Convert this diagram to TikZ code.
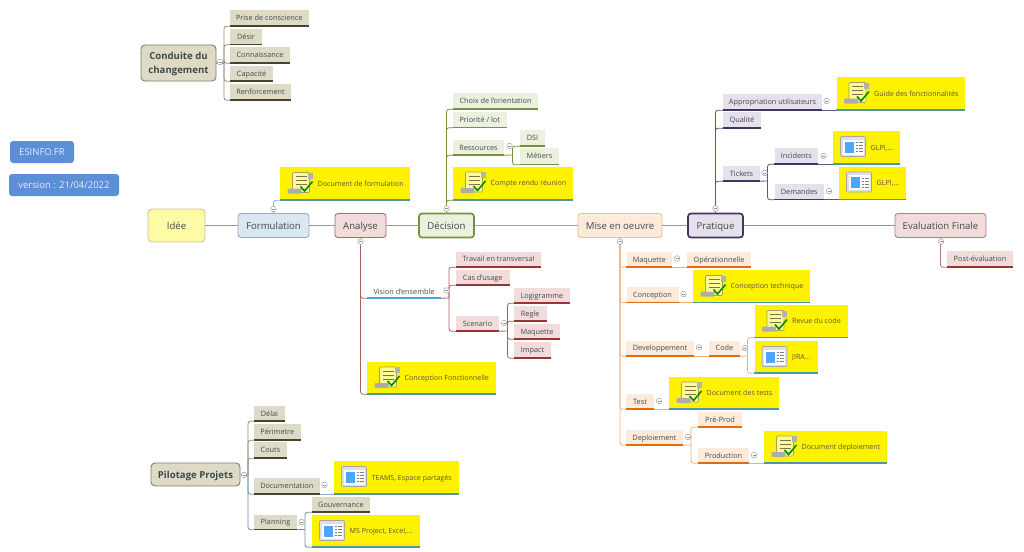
\documentclass[tikz,border=0pt]{standalone}
\usepackage{fontspec}
\setmainfont{Open Sans}
\newcommand{\basel}{\rule[-0.25em]{0pt}{1.25em}}
\definecolor{txt}{HTML}{3F4A4A}
\definecolor{chgF}{HTML}{DDDBC6}\definecolor{chgL}{HTML}{4A452A}
\definecolor{decF}{HTML}{EBF1DE}\definecolor{decL}{HTML}{76923C}
\definecolor{praF}{HTML}{E5E0EC}\definecolor{praL}{HTML}{3F3760}
\definecolor{miseF}{HTML}{FDEADA}\definecolor{miseL}{HTML}{E36C0A}
\definecolor{anaF}{HTML}{F2DCDB}\definecolor{anaL}{HTML}{953735}
\definecolor{forF}{HTML}{DCE6F1}\definecolor{forL}{HTML}{8FB0C8}
\definecolor{yelL}{HTML}{4F97A8}
\definecolor{blu}{HTML}{5B8FD6}
\tikzset{
  mainline/.style={draw=#1,line width=0.9pt,rounded corners=2.5pt},
  con/.style={draw=#1,line width=0.8pt,rounded corners=2.5pt},
  topbox/.style={inner sep=0pt,font=\fontsize{9.6}{11}\selectfont,text=txt,rounded corners=3pt,line width=0.9pt},
  subbox/.style={inner sep=0pt,font=\fontsize{7.3}{9}\selectfont,text=txt},
  yelbox/.style={inner sep=0pt,fill=yellow},
  yeltext/.style={inner sep=0pt,anchor=west,font=\fontsize{7.1}{9}\selectfont,text=black!75!yellow},
  ulchg/.style={draw=chgL,line width=1.5pt},
  uldec/.style={draw=decL,line width=1.5pt},
  ulpra/.style={draw=praL,line width=1.5pt},
  ulmise/.style={draw=miseL,line width=1.5pt},
  ulana/.style={draw=anaL,line width=1.5pt},
  ulvis/.style={draw=blu!80!cyan,line width=1.5pt},
  ulyel/.style={draw=yelL,line width=1.5pt},
  tag/.style={inner sep=0pt,fill=blu,rounded corners=3pt,text=white!92!blue,font=\fontsize{9.5}{11}\selectfont},
  fold/.style={circle,inner sep=0pt,minimum size=5.6pt,draw=gray!75,line width=0.5pt,fill=white,
    path picture={\draw[gray!85,line width=0.4pt] ([xshift=1.3pt]path picture bounding box.west) -- ([xshift=-1.3pt]path picture bounding box.east);}},
  docicon/.pic={
    \draw[fill=yellow!40!white,draw=black!35!yellow!70!gray,line width=0.6pt,rounded corners=1pt] (5,0) rectangle (22,20);
    \fill[gray!60] (20,0) rectangle (25,6);
    \foreach \yy in {4,8,12}{\draw[black!60!yellow,line width=0.5pt] (8,\yy) -- (19,\yy);}
    \fill[gray!65,rounded corners=1pt] (0,16) rectangle (14,21);
    \draw[green!55!black,line width=1.6pt] (13,14) -- (17,18.5) -- (25,9);
  },
  winicon/.pic={
    \draw[fill=gray!25,draw=gray!70,line width=0.6pt,rounded corners=1pt] (0,0) rectangle (25,20);
    \fill[white] (2,3) rectangle (23,18);
    \fill[blue!50!cyan!70!white] (4,5) rectangle (13,16);
    \foreach \yy in {6,9,12,15}{\draw[gray,line width=0.5pt] (15,\yy) -- (17,\yy) (18,\yy) -- (22,\yy);}
  },
}
% style, underline style, name, x1, y1, x2, y2, text
\newcommand{\subt}[8]{%
  \pgfmathsetmacro{\cxx}{(#4+#6)/2}\pgfmathsetmacro{\cyy}{(#5+#7)/2}%
  \pgfmathsetmacro{\www}{#6-#4}\pgfmathsetmacro{\hhh}{#7-#5}%
  \node[subbox,fill=#1,minimum width=\www pt,minimum height=\hhh pt] (#3) at (\cxx,\cyy) {\basel #8};
  \draw[#2] (#3.south west) -- (#3.south east);
}
% icon, name, x1, y1, x2, y2, text
\newcommand{\yelt}[7]{%
  \pgfmathsetmacro{\cxx}{(#3+#5)/2}\pgfmathsetmacro{\cyy}{(#4+#6)/2}%
  \pgfmathsetmacro{\www}{#5-#3}\pgfmathsetmacro{\hhh}{#6-#4}%
  \node[yelbox,minimum width=\www pt,minimum height=\hhh pt] (#2) at (\cxx,\cyy) {};
  \draw[ulyel] (#2.south west) -- (#2.south east);
  \pgfmathsetmacro{\ixx}{#3+7.5}\pgfmathsetmacro{\iyy}{#4+5.5}%
  \pic at (\ixx,\iyy) {#1};
  \pgfmathsetmacro{\txx}{#3+37.5}%
  \node[yeltext] (#2-t) at (\txx,\cyy) {\basel #7};
}
% style options, name, x1, y1, x2, y2, text
\newcommand{\topb}[7]{%
  \pgfmathsetmacro{\cxx}{(#3+#5)/2}\pgfmathsetmacro{\cyy}{(#4+#6)/2}%
  \pgfmathsetmacro{\www}{#5-#3}\pgfmathsetmacro{\hhh}{#6-#4}%
  \node[topbox,#1,minimum width=\www pt,minimum height=\hhh pt] (#2) at (\cxx,\cyy) {\basel #7};
}
\begin{document}
\begin{tikzpicture}[x=1pt,y=-1pt]
\path[use as bounding box,fill=white] (0,0) rectangle (1024,551);

% ---- tags
\node[tag,minimum width=64pt,minimum height=22pt] (esinfo) at (42,152) {\basel ESINFO.FR};
\node[tag,minimum width=110pt,minimum height=22pt] (version) at (64,185) {\basel version : 21/04/2022};

% ---- main row
\topb{draw=yellow!30!gray!70,fill=yellow!35!white,rounded corners=4pt}{idee}{148}{209}{205}{242}{Idée}
\topb{draw=forL,fill=forF}{formu}{238}{213.5}{309}{237.5}{Formulation}
\topb{draw=anaL!75,fill=anaF}{analyse}{335}{213.5}{386}{237.5}{Analyse}
\topb{draw=decL,fill=decF,line width=1.7pt}{decision}{419}{213.5}{474}{237.5}{Décision}
\topb{draw=miseL!45!white,fill=miseF}{mise}{578}{213.5}{662}{237.5}{Mise en oeuvre}
\topb{draw=praL,fill=praF,line width=1.7pt}{pratique}{688}{213.5}{743}{237.5}{Pratique}
\topb{draw=anaL!65,fill=anaF}{evalf}{895}{213.5}{986}{237.5}{Evaluation Finale}
\draw[mainline=anaL!60] (idee) -- (formu);
\draw[mainline=anaL!60] (formu) -- (analyse);
\draw[mainline=anaL!60] (analyse) -- (decision);
\draw[mainline=decL!30!anaL!60] (decision) -- (mise);
\draw[mainline=anaL!60] (mise) -- (pratique);
\draw[mainline=praL!30!anaL!60] (pratique) -- (evalf);

% ---- Conduite du changement
\topb{draw=chgL!70,fill=chgF,font=\fontsize{9.6}{14}\selectfont\bfseries,align=center,rounded corners=4pt}{cond}{141}{45}{216}{81}{Conduite du\\changement}
\subt{chgF}{ulchg}{prise}{230}{10}{308.5}{26}{Prise de conscience}
\subt{chgF}{ulchg}{desir}{230}{29}{262}{44.5}{Désir}
\subt{chgF}{ulchg}{connais}{230}{47}{290}{63}{Connaissance}
\subt{chgF}{ulchg}{capac}{230}{66}{273}{81}{Capacité}
\subt{chgF}{ulchg}{renfo}{230}{84}{291}{100}{Renforcement}
\coordinate (cb) at (224,63);
\draw[con=gray!60!forL] (cond.east) -- (cb);
\foreach \n in {prise,desir,connais,capac,renfo}{\draw[con=chgL!60] (cb) |- (\n.south west);}

% ---- Formulation
\yelt{docicon}{docform}{280}{167}{410}{200}{Document de formulation}
\draw[con=forL] (formu.north) |- (docform.south west);

% ---- Décision
\subt{decF}{uldec}{choix}{453}{93}{538}{109}{Choix de l'orientation}
\subt{decF}{uldec}{prio}{453}{112}{506.5}{127.5}{Priorité / lot}
\subt{decF}{uldec}{ress}{453}{140}{504}{155}{Ressources}
\subt{decF}{uldec}{dsi}{520}{130}{545}{146}{DSI}
\subt{decF}{uldec}{metiers}{520}{148}{559}{164.5}{Métiers}
\yelt{docicon}{compte}{453}{166.5}{573}{200}{Compte rendu réunion}
\foreach \n in {choix,prio,ress,compte}{\draw[con=decL] (decision.north) |- (\n.south west);}
\coordinate (rb) at (512.5,155);
\draw[con=decL] (ress.south east) -- (rb);
\draw[con=decL] (rb) |- (dsi.south west);
\draw[con=decL] (rb) |- (metiers.south west);

% ---- Pratique
\subt{praF}{ulpra}{appro}{723}{94}{822}{110}{Appropriation utilisateurs}
\subt{praF}{ulpra}{qual}{723}{112}{761}{128}{Qualité}
\subt{praF}{ulpra}{tick}{723}{166}{760}{181}{Tickets}
\subt{praF}{ulpra}{incid}{774.5}{148}{818}{164}{Incidents}
\subt{praF}{ulpra}{deman}{774.5}{184}{824}{199.5}{Demandes}
\yelt{docicon}{guide}{836.5}{77}{965}{110}{Guide des fonctionnalités}
\yelt{winicon}{glpia}{833}{131}{900}{164}{GLPI,...}
\yelt{winicon}{glpib}{839}{166.5}{905.5}{199.5}{GLPI,...}
\foreach \n in {appro,qual,tick}{\draw[con=praL!85] (pratique.north) |- (\n.south west);}
\coordinate (tb) at (767.5,181);
\draw[con=praL!85] (tick.south east) -- (tb);
\draw[con=praL!85] (tb) |- (incid.south west);
\draw[con=praL!85] (tb) |- (deman.south west);
\draw[con=praL!85] (appro.south east) -- (guide.south west);
\draw[con=praL!85] (incid.south east) -- (glpia.south west);
\draw[con=praL!85] (deman.south east) -- (glpib.south west);

% ---- Evaluation
\subt{anaF}{ulana}{post}{947}{251}{1013}{267}{Post-évaluation}
\draw[con=anaL!70] (evalf.south) |- (post.south west);

% ---- Analyse
\subt{white}{ulvis}{vision}{367}{285}{441}{298}{Vision d'ensemble}
\subt{anaF}{ulana}{travail}{456}{251.5}{541}{267}{Travail en transversal}
\subt{anaF}{ulana}{casu}{456}{270}{509.5}{285}{Cas d'usage}
\subt{anaF}{ulana}{scen}{456}{316}{499}{331}{Scenario}
\subt{anaF}{ulana}{logi}{514}{288}{570}{303}{Logigramme}
\subt{anaF}{ulana}{regle}{514}{306}{546.5}{321}{Regle}
\subt{anaF}{ulana}{maqa}{514}{324}{560}{339}{Maquette}
\subt{anaF}{ulana}{impact}{514}{342}{551}{358}{Impact}
\yelt{docicon}{confo}{367}{361.5}{495.5}{394}{Conception Fonctionnelle}
\foreach \n in {vision,confo}{\draw[con=anaL!80] (analyse.south) |- (\n.south west);}
\coordinate (vb) at (449,298);
\draw[con=anaL!80] (vision.south east) -- (vb);
\foreach \n in {travail,casu,scen}{\draw[con=anaL!80] (vb) |- (\n.south west);}
\coordinate (sb) at (507.5,331);
\draw[con=anaL!80] (scen.south east) -- (sb);
\foreach \n in {logi,regle,maqa,impact}{\draw[con=anaL!80] (sb) |- (\n.south west);}

% ---- Mise en oeuvre
\subt{miseF}{ulmise}{maqm}{626.5}{252}{672}{267}{Maquette}
\subt{miseF}{ulmise}{oper}{687}{252}{751}{267}{Opérationnelle}
\subt{miseF}{ulmise}{concep}{626.5}{287}{678.5}{302.5}{Conception}
\yelt{docicon}{contech}{693}{270}{810}{302.5}{Conception technique}
\subt{miseF}{ulmise}{dev}{626}{340.5}{694}{356}{Developpement}
\subt{miseF}{ulmise}{code}{709}{340.5}{740}{356}{Code}
\yelt{docicon}{revue}{754.5}{305}{848}{337.5}{Revue du code}
\yelt{winicon}{jira}{754.5}{341}{817.5}{373}{JIRA...}
\subt{miseF}{ulmise}{test}{626}{394}{654}{409}{Test}
\yelt{docicon}{doctest}{669}{376.5}{779}{409}{Document des tests}
\subt{miseF}{ulmise}{deplo}{626}{430}{683}{445}{Deploiement}
\subt{miseF}{ulmise}{prep}{698}{412}{742}{427}{Pré-Prod}
\subt{miseF}{ulmise}{prod}{698}{448}{749}{463}{Production}
\yelt{docicon}{docdep}{764}{430.5}{887}{463}{Document deploiement}
\foreach \n in {maqm,concep,dev,test,deplo}{\draw[con=miseL!55!white] (mise.south) |- (\n.south west);}
\draw[con=miseL!55!white] (maqm.south east) -- (oper.south west);
\draw[con=miseL!55!white] (concep.south east) -- (contech.south west);
\draw[con=miseL!55!white] (dev.south east) -- (code.south west);
\draw[con=miseL!55!white] (test.south east) -- (doctest.south west);
\draw[con=miseL!55!white] (prod.south east) -- (docdep.south west);
\coordinate (cdb) at (747.5,356);
\draw[con=miseL!55!white] (code.south east) -- (cdb);
\draw[con=miseL!55!white] (cdb) |- (revue.south west);
\draw[con=miseL!55!white] (cdb) |- (jira.south west);
\coordinate (dpb) at (691,445);
\draw[con=miseL!55!white] (deplo.south east) -- (dpb);
\draw[con=miseL!55!white] (dpb) |- (prep.south west);
\draw[con=miseL!55!white] (dpb) |- (prod.south west);

% ---- Pilotage
\topb{draw=chgL!70,fill=chgF,font=\fontsize{9.6}{12}\selectfont\bfseries,rounded corners=4pt}{pilot}{151}{463}{240}{486}{Pilotage Projets}
\subt{chgF}{ulchg}{delai}{254}{406}{285}{421}{Délai}
\subt{chgF}{ulchg}{perim}{254}{424}{300.5}{440}{Périmetre}
\subt{chgF}{ulchg}{couts}{254}{442}{287}{458}{Couts}
\subt{chgF}{ulchg}{docu}{254}{478}{319.5}{494}{Documentation}
\subt{chgF}{ulchg}{plan}{254}{514.5}{297}{529.5}{Planning}
\subt{chgF}{ulchg}{gouv}{312}{497}{370}{512}{Gouvernance}
\yelt{winicon}{teams}{334}{461}{459}{494}{TEAMS, Espace partagés}
\yelt{winicon}{msp}{312}{515}{420}{547}{MS Project, Excel,...}
\coordinate (pb) at (248,475);
\draw[con=forL] (pilot.east) -- (pb);
\foreach \n in {delai,perim,couts}{\draw[con=chgL!60] (pb) |- (\n.south west);}
\foreach \n in {docu,plan}{\draw[con=forL!80!black] (pb) |- (\n.south west);}
\draw[con=forL] (docu.south east) -- (teams.south west);
\coordinate (plb) at (305,529.5);
\draw[con=forL!80!black] (plan.south east) -- (plb);
\draw[con=forL!80!black] (plb) |- (gouv.south west);
\draw[con=forL!80!black] (plb) |- (msp.south west);

% ---- fold markers
\node[fold] (f01) at (220,62) {};
\node[fold] (f02) at (273.5,209) {};
\node[fold] (f03) at (360.5,241.5) {};
\node[fold] (f04) at (446.5,208.5) {};
\node[fold] (f05) at (509.5,146) {};
\node[fold] (f06) at (620,241.5) {};
\node[fold] (f07) at (715.5,208.5) {};
\node[fold] (f08) at (826.5,101) {};
\node[fold] (f09) at (764.5,173) {};
\node[fold] (f10) at (823.5,156) {};
\node[fold] (f11) at (829,191) {};
\node[fold] (f12) at (941,241.5) {};
\node[fold] (f13) at (446.5,290.5) {};
\node[fold] (f14) at (504,323) {};
\node[fold] (f15) at (677,258.5) {};
\node[fold] (f16) at (683.5,294) {};
\node[fold] (f17) at (699,347.5) {};
\node[fold] (f18) at (744.5,348) {};
\node[fold] (f19) at (659,401) {};
\node[fold] (f20) at (688,437) {};
\node[fold] (f21) at (754,455) {};
\node[fold] (f22) at (244,475) {};
\node[fold] (f23) at (324.5,485) {};
\node[fold] (f24) at (301.5,522) {};
\end{tikzpicture}
\end{document}
